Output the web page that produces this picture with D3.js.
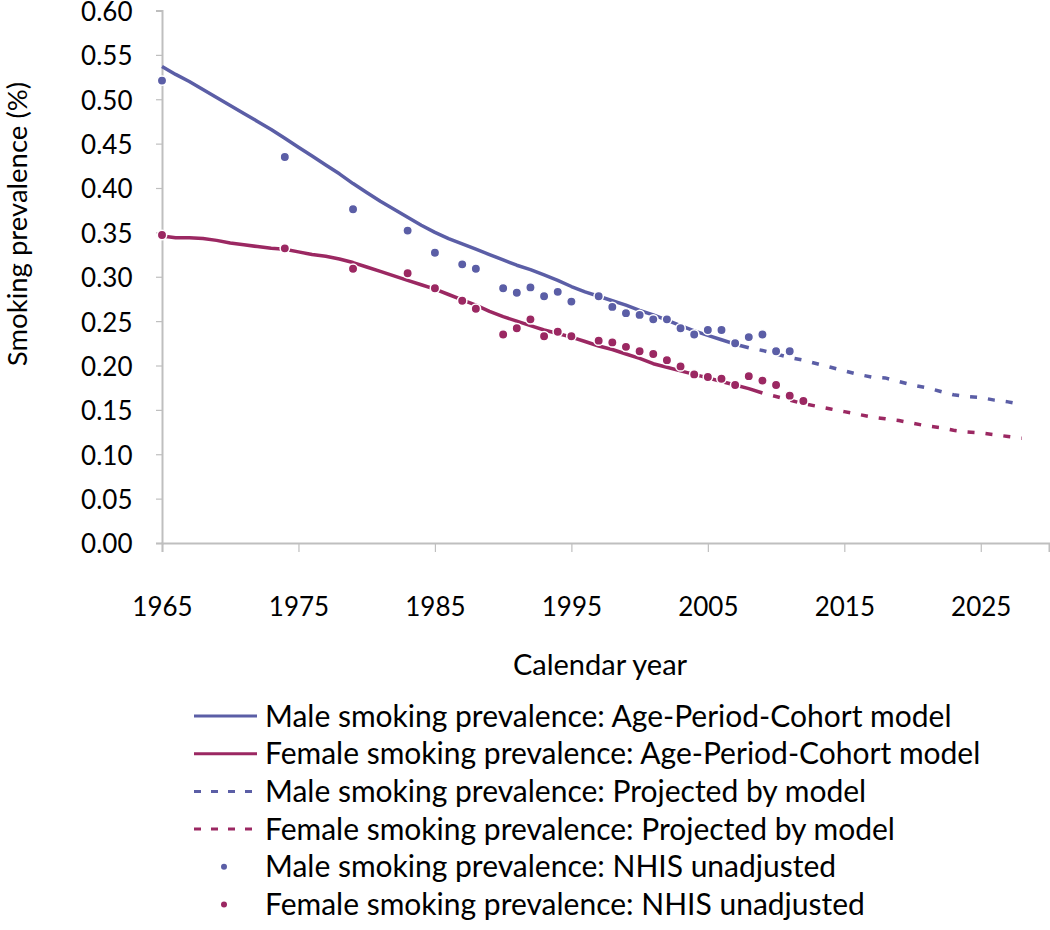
<!DOCTYPE html>
<html>
<head>
<meta charset="utf-8">
<script src="https://cdn.jsdelivr.net/npm/d3@7"></script>
<style>
  html, body { margin: 0; padding: 0; background: #fff; }
  svg { display: block; font-family: Lato, "Open Sans", sans-serif; }
</style>
</head>
<body>
<svg id="chart" width="1050" height="930"></svg>
<script>
// ---------- data ----------
const maleApcYears = d3.range(1965, 2009);
const maleApc = [0.537,0.528,0.520,0.511,0.502,0.493,0.484,0.475,0.466,0.456,
  0.446,0.436,0.426,0.416,0.405,0.395,0.385,0.376,0.367,0.358,
  0.350,0.343,0.337,0.331,0.325,0.319,0.313,0.308,0.302,0.296,
  0.289,0.283,0.278,0.273,0.268,0.262,0.257,0.251,0.245,0.239,
  0.234,0.229,0.224,0.220];
const femaleApcYears = d3.range(1965, 2010);
const femaleApc = [0.346,0.344,0.344,0.343,0.341,0.338,0.336,0.334,0.332,0.331,
  0.328,0.325,0.323,0.320,0.316,0.311,0.306,0.301,0.296,0.291,
  0.286,0.280,0.274,0.268,0.261,0.255,0.250,0.245,0.240,0.236,
  0.232,0.227,0.222,0.218,0.213,0.208,0.202,0.198,0.194,0.190,
  0.186,0.182,0.178,0.174,0.169];
const maleProjYears = d3.range(2008, 2029);
const maleProj = [0.220,0.217,0.213,0.209,0.206,0.202,0.198,0.194,0.190,0.187,
  0.186,0.182,0.178,0.175,0.171,0.167,0.165,0.164,0.161,0.159,0.156];
const femaleProjYears = d3.range(2009, 2029);
const femaleProj = [0.169,0.165,0.161,0.157,0.154,0.151,0.148,0.145,0.142,0.140,
  0.138,0.135,0.132,0.130,0.127,0.125,0.124,0.122,0.120,0.118];
const nhisYearsMale = [1965,1974,1979,1983,1985,1987,1988,1990,1991,1992,1993,1994,1995,
  1997,1998,1999,2000,2001,2002,2003,2004,2005,2006,2007,2008,2009,2010,2011];
const nhisMale = [0.521,0.435,0.376,0.352,0.327,0.314,0.309,0.287,0.282,0.288,0.278,0.283,0.272,
  0.278,0.266,0.259,0.257,0.252,0.252,0.242,0.235,0.240,0.240,0.225,0.232,0.235,0.216,0.216];
const nhisYearsFemale = [1965,1974,1979,1983,1985,1987,1988,1990,1991,1992,1993,1994,1995,
  1997,1998,1999,2000,2001,2002,2003,2004,2005,2006,2007,2008,2009,2010,2011,2012];
const nhisFemale = [0.347,0.332,0.309,0.304,0.287,0.273,0.264,0.235,0.242,0.252,0.233,0.238,0.233,
  0.228,0.226,0.221,0.216,0.213,0.206,0.199,0.190,0.187,0.185,0.178,0.188,0.183,0.178,0.166,0.160];
const xTicks = [1965,1975,1985,1995,2005,2015,2025];
const yTicks = [0,0.05,0.10,0.15,0.20,0.25,0.30,0.35,0.40,0.45,0.50,0.55,0.60];
const legendLabels = [
  "Male smoking prevalence: Age-Period-Cohort model",
  "Female smoking prevalence: Age-Period-Cohort model",
  "Male smoking prevalence: Projected by model",
  "Female smoking prevalence: Projected by model",
  "Male smoking prevalence: NHIS unadjusted",
  "Female smoking prevalence: NHIS unadjusted"
];
const xTitle = "Calendar year";
const yTitle = "Smoking prevalence (%)";

// ---------- styles ----------
const MALE = "#5b5ea6", FEMALE = "#9b2862";
const AXIS = "#bfbfbf";
const TICK_FS = 26, TITLE_FS = 29, LEGEND_FS = 30;

const svg = d3.select("#chart");
const x = d3.scaleLinear().domain([1965, 2030]).range([162, 1049]);
const y = d3.scaleLinear().domain([0, 0.6]).range([543, 10.5]);

// axes
const gx = svg.append("g").attr("transform", `translate(0,${y(0)})`)
  .call(d3.axisBottom(x).tickValues(xTicks).tickFormat(d3.format("d")).tickSize(9).tickPadding(46));
gx.select(".domain").attr("stroke", AXIS).attr("stroke-width", 2);
gx.selectAll(".tick line").attr("stroke", AXIS).attr("stroke-width", 1.2);
gx.selectAll(".tick text").attr("font-size", TICK_FS).attr("fill", "#000").attr("font-family", "Lato");

const gy = svg.append("g").attr("transform", `translate(${x(1965)},0)`)
  .call(d3.axisLeft(y).tickValues(yTicks).tickFormat(d3.format(".2f")).tickSize(6).tickPadding(23.5));
gy.select(".domain").attr("stroke", AXIS).attr("stroke-width", 2);
gy.selectAll(".tick line").attr("stroke", AXIS).attr("stroke-width", 1.2);
gy.selectAll(".tick text").attr("font-size", TICK_FS).attr("fill", "#000").attr("font-family", "Lato")
  .attr("dy", "0.38em");

// titles
svg.append("text").attr("x", 600).attr("y", 675).attr("text-anchor", "middle")
  .attr("font-size", TITLE_FS).text(xTitle);
svg.append("text").attr("transform", "translate(27,224) rotate(-90)").attr("text-anchor", "middle")
  .attr("font-size", 27.5).text(yTitle);

// lines
const line = (xs) => d3.line().x((d, i) => x(xs[i])).y(d => y(d));
svg.append("path").datum(maleApc).attr("d", line(maleApcYears))
  .attr("fill", "none").attr("stroke", MALE).attr("stroke-width", 3.5).attr("stroke-linejoin", "round");
svg.append("path").datum(femaleApc).attr("d", line(femaleApcYears))
  .attr("fill", "none").attr("stroke", FEMALE).attr("stroke-width", 3.5).attr("stroke-linejoin", "round");
svg.append("path").datum(maleProj).attr("d", line(maleProjYears))
  .attr("fill", "none").attr("stroke", MALE).attr("stroke-width", 3.5).attr("stroke-dasharray", "7,11")
  .attr("stroke-dashoffset", -11);
svg.append("path").datum(femaleProj).attr("d", line(femaleProjYears))
  .attr("fill", "none").attr("stroke", FEMALE).attr("stroke-width", 3.5).attr("stroke-dasharray", "7,11")
  .attr("stroke-dashoffset", -11);

// dots
svg.append("g").selectAll("circle").data(nhisMale).join("circle")
  .attr("cx", (d, i) => x(nhisYearsMale[i])).attr("cy", d => y(d)).attr("r", 4.7)
  .attr("fill", MALE).attr("stroke", "#fff").attr("stroke-width", 1.5);
svg.append("g").selectAll("circle").data(nhisFemale).join("circle")
  .attr("cx", (d, i) => x(nhisYearsFemale[i])).attr("cy", d => y(d)).attr("r", 4.7)
  .attr("fill", FEMALE).attr("stroke", "#fff").attr("stroke-width", 1.5);

// legend
const legendColors = [MALE, FEMALE, MALE, FEMALE, MALE, FEMALE];
const legendTypes = ["solid", "solid", "dash", "dash", "dot", "dot"];
const lg = svg.append("g");
legendLabels.forEach((lab, i) => {
  const cy = 716 + i * 37.7;
  const t = legendTypes[i];
  if (t === "dot") {
    lg.append("circle").attr("cx", 224).attr("cy", cy).attr("r", 3).attr("fill", legendColors[i]);
  } else {
    lg.append("line").attr("x1", 194).attr("x2", 257).attr("y1", cy).attr("y2", cy)
      .attr("stroke", legendColors[i]).attr("stroke-width", 3)
      .attr("stroke-dasharray", t === "dash" ? "7,10" : null);
  }
  lg.append("text").attr("x", 265).attr("y", cy).attr("dy", "0.35em")
    .attr("font-size", LEGEND_FS).attr("fill", "#000").text(lab);
});
</script>
</body>
</html>
